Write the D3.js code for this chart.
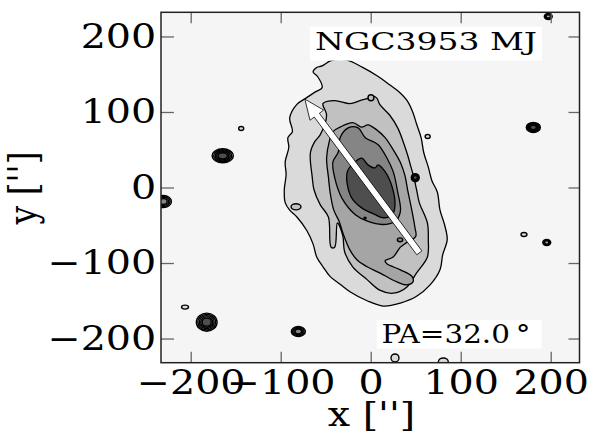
<!DOCTYPE html>
<html>
<head>
<meta charset="utf-8">
<script src="https://cdn.jsdelivr.net/npm/d3@7"></script>
<style>
    body { margin: 0; background: #fff; }
    text { font-family: "DejaVu Serif", serif; }
</style>
</head>
<body>
<svg id="mainSvg" width="598" height="433"></svg>
<script>
// ---- data (arcsec) ----
const xTicks = [-200, -100, 0, 100, 200];
const yTicks = [-200, -100, 0, 100, 200];
const xDomain = [-233, 232];
const yDomain = [-232, 232];

// isophote outlines, outermost first
const iso1 = [[-44,168],[-27,169],[-9,159],[7,148],[21,136],[31,127],[41,114],[47,99],[51,84],[56,66],[59,46],[64,27],[68,9],[74,-6],[77,-30],[82,-49],[85,-69],[80,-89],[77,-109],[66,-129],[51,-144],[33,-153],[14,-157],[-4,-150],[-23,-138],[-34,-128],[-45,-118],[-53,-105],[-60,-92],[-64,-75],[-71,-57],[-82,-39],[-90,-30],[-95,-20],[-96,-3],[-94,17],[-95,34],[-91,53],[-92,66],[-87,74],[-90,92],[-82,110],[-71,119],[-61,127],[-54,132],[-59,147],[-64,153],[-60,159],[-54,161]];
const iso2 = [[-53,111],[-40,115],[-23,111],[-12,115],[-3,118],[3,121],[7,118],[10,110],[21,96],[30,79],[36,61],[41,43],[45,26],[48,13],[51,-3],[54,-20],[63,-47],[64,-69],[63,-92],[51,-113],[40,-132],[25,-140],[10,-136],[-4,-122],[-20,-105],[-29,-85],[-31,-64],[-37,-47],[-40,-79],[-44,-79],[-47,-39],[-56,-23],[-63,-3],[-65,14],[-67,46],[-62,61],[-56,70],[-49,96]];
const iso3 = [[-42,74],[-34,80],[-20,86],[-10,80],[-3,83],[7,76],[16,66],[25,50],[33,33],[38,16],[41,-3],[45,-26],[49,-52],[50,-65],[40,-73],[33,-79],[25,-92],[16,-97],[18,-101],[33,-109],[46,-118],[47,-125],[40,-129],[29,-125],[10,-113],[-4,-105],[-15,-96],[-23,-83],[-31,-60],[-35,-45],[-41,-30],[-45,-7],[-47,14],[-49,39],[-46,61]];
const iso4 = [[-25,79],[-14,79],[-6,66],[8,57],[18,39],[25,21],[30,-6],[33,-32],[27,-45],[13,-49],[-3,-45],[-17,-36],[-32,-14],[-40,13],[-42,34],[-36,47],[-34,66]];
const iso5 = [[-21,30],[-10,39],[-3,30],[5,26],[8,30],[16,21],[24,0],[27,-23],[24,-36],[13,-40],[5,-36],[-10,-27],[-21,-14],[-26,4],[-26,21]];
const isophotes = [iso1, iso2, iso3, iso4, iso5];

// compact sources: x, y, rx, ry, lowest level, highest level
const blobs = [
    [-164.4, 42.0, 11.7, 9.3, 1, 5],
    [-143.9, 78.1, 2.8, 2.6, 1, 1],
    [-230.4, -18.5, 9.0, 8.0, 1, 4],
    [-206.3, -158.4, 3.9, 2.6, 1, 1],
    [-182.2, -178.3, 11.5, 12.0, 1, 5],
    [-80.4, -190.7, 7.8, 6.6, 1, 4],
    [197.3, 226.5, 4.4, 4.0, 1, 3],
    [180.7, 79.5, 7.8, 6.6, 1, 5],
    [63.3, 67.5, 2.8, 2.6, 1, 1],
    [49.5, 13.0, 4.4, 5.3, 3, 5],
    [170.3, -62.2, 3.3, 2.6, 1, 1],
    [195.6, -72.8, 4.4, 4.0, 1, 3],
    [27.0, -225.7, 4.4, 5.3, 1, 1],
    [80.7, -231.0, 5.5, 5.3, 1, 1],
    [-83.0, -25.6, 5.5, 4.0, 2, 2],
    [0.3, 118.8, 3.3, 4.0, 2, 2],
    [32.6, -69.3, 3.0, 2.6, 4, 4],
    [-6.3, -40.5, 1.2, 1.2, 5, 5]
];

const galaxyName = "NGC3953 MJ";
const posAngle = 32.0;
const arrowRadii = [102, 138]; // tail, head (arcsec from centre)

// ---- layout ----
let svg = d3.select('#mainSvg');
const padLeft = 161, padTop = 12.3, w = 418.5, h = 350.4;
const levelColors = ["#dadada", "#c1c1c1", "#a5a5a5", "#858585", "#4e4e4e"];
const bgColor = "#f5f5f5";
const stretch = 1.2; // text in the picture is horizontally widened

const x = d3.scaleLinear().domain(xDomain).range([0, w]);
const y = d3.scaleLinear().domain(yDomain).range([h, 0]);

let g = svg.append("g").attr("transform", `translate(${padLeft},${padTop})`);
g.append("clipPath").attr("id", "clip")
    .append("rect").attr("width", w).attr("height", h);
let plot = g.append("g").attr("clip-path", "url(#clip)");

/**
 * contours
 */
const drawContours = function () {
    plot.append("rect").attr("width", w).attr("height", h).attr("fill", bgColor);

    const line = d3.line()
        .x(d => x(d[0]))
        .y(d => y(d[1]))
        .curve(d3.curveCatmullRomClosed.alpha(0.5));

    plot.selectAll("path.iso").data(isophotes).join("path")
        .attr("class", "iso")
        .attr("d", d => line(d))
        .attr("fill", (d, i) => levelColors[i])
        .attr("stroke", "#000")
        .attr("stroke-width", 1.3);

    // nested rings for each compact source
    const rings = [];
    blobs.forEach(b => {
        const n = b[5] - b[4] + 1;
        for (let k = 0; k < n; k++) {
            const f = 1 - 0.7 * k / n;
            rings.push({cx: b[0], cy: b[1], rx: b[2] * f, ry: b[3] * f, level: b[4] + k});
        }
    });
    plot.selectAll("ellipse").data(rings).join("ellipse")
        .attr("cx", d => x(d.cx))
        .attr("cy", d => y(d.cy))
        .attr("rx", d => x(d.rx) - x(0))
        .attr("ry", d => y(0) - y(d.ry))
        .attr("fill", d => levelColors[d.level - 1])
        .attr("stroke", "#000")
        .attr("stroke-width", 1.4);
};

/**
 * position-angle arrow
 */
const drawArrow = function () {
    const a = posAngle * Math.PI / 180;
    const tail = [x(arrowRadii[0] * Math.sin(a)), y(-arrowRadii[0] * Math.cos(a))];
    const tip = [x(-arrowRadii[1] * Math.sin(a)), y(arrowRadii[1] * Math.cos(a))];
    const len = Math.hypot(tip[0] - tail[0], tip[1] - tail[1]);
    const u = [(tip[0] - tail[0]) / len, (tip[1] - tail[1]) / len];
    const nrm = [-u[1], u[0]];
    const sw = 3.2, hw = 8.5, hl = 20;
    const neck = [tip[0] - u[0] * hl, tip[1] - u[1] * hl];
    const p = (base, s) => [base[0] + nrm[0] * s, base[1] + nrm[1] * s];
    const pts = [p(tail, sw), p(neck, sw), p(neck, hw), tip, p(neck, -hw), p(neck, -sw), p(tail, -sw)];
    plot.append("polygon")
        .attr("points", pts.map(q => q.join(",")).join(" "))
        .attr("fill", "#fff")
        .attr("stroke", "#000")
        .attr("stroke-width", 0.8)
        .attr("stroke-linejoin", "miter");
};

/**
 * axes, ticks and frame
 */
const drawAxes = function () {
    const styleAxis = function (sel) {
        sel.select(".domain").remove();
        sel.selectAll(".tick line").attr("stroke", "#666").attr("stroke-width", 1.3);
        sel.attr("font-size", 33).attr("font-family", "DejaVu Serif");
        sel.selectAll("text").attr("fill", "#000").attr("transform", `scale(${stretch},1)`);
    };

    g.append("g")
        .call(d3.axisLeft(y).tickValues(yTicks).tickSizeInner(-13).tickSizeOuter(0).tickPadding(4))
        .call(styleAxis);
    g.append("g").attr("transform", `translate(0,${h})`)
        .call(d3.axisBottom(x).tickValues(xTicks).tickSizeInner(-11).tickSizeOuter(0).tickPadding(7.5))
        .call(styleAxis);
    g.append("g").attr("transform", `translate(${w},0)`)
        .call(d3.axisRight(y).tickValues(yTicks).tickSizeInner(-11).tickSizeOuter(0).tickFormat(""))
        .call(styleAxis);
    g.append("g")
        .call(d3.axisTop(x).tickValues(xTicks).tickSizeInner(-11).tickSizeOuter(0).tickFormat(""))
        .call(styleAxis);

    g.append("rect")
        .attr("width", w).attr("height", h)
        .attr("fill", "none")
        .attr("stroke", "#222")
        .attr("stroke-width", 1.5);

    svg.append("text")
        .text("x ['']")
        .attr("text-anchor", "middle")
        .attr("font-size", 33)
        .attr("transform", `translate(371.5,426) scale(${stretch},1)`);
    svg.append("text")
        .text("y ['']")
        .attr("text-anchor", "middle")
        .attr("font-size", 33)
        .attr("transform", `translate(36,188) scale(${stretch},1) rotate(-90)`);
};

/**
 * boxed annotations
 */
const drawLabels = function () {
    svg.append("rect").attr("x", 310).attr("y", 26.7).attr("width", 232).attr("height", 34).attr("fill", "#fff");
    svg.append("text")
        .text(galaxyName)
        .attr("x", 315).attr("y", 50)
        .attr("font-size", 25)
        .attr("textLength", 222)
        .attr("lengthAdjust", "spacingAndGlyphs");

    svg.append("rect").attr("x", 376.7).attr("y", 320).attr("width", 165).attr("height", 28.5).attr("fill", "#fff");
    svg.append("text")
        .text(`PA=${posAngle.toFixed(1)}\u2009°`)
        .attr("x", 381.5).attr("y", 343.3)
        .attr("font-size", 26)
        .attr("textLength", 149)
        .attr("lengthAdjust", "spacingAndGlyphs");
};

drawContours();
drawArrow();
drawLabels();
drawAxes();
</script>
</body>
</html>
